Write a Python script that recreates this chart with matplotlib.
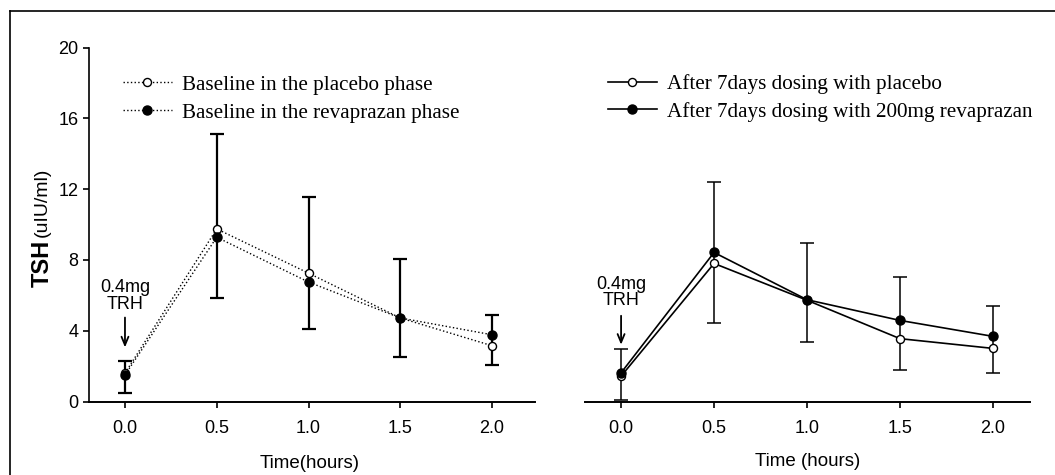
import matplotlib
matplotlib.use("Agg")
import matplotlib.pyplot as plt
from matplotlib.lines import Line2D
import numpy as np

# ---------------- data ----------------
time_h = [0.0, 0.5, 1.0, 1.5, 2.0]

# Left panel (baseline)
base_placebo = [1.6, 9.75, 7.25, 4.72, 3.15]
base_revap = [1.5, 9.28, 6.75, 4.72, 3.77]
base_err_hi = [2.3, 15.1, 11.57, 8.05, 4.88]
base_err_lo = [0.5, 5.85, 4.1, 2.5, 2.05]

# Right panel (after 7 days dosing)
after_placebo = [1.43, 7.8, 5.72, 3.55, 3.0]
after_revap = [1.62, 8.42, 5.75, 4.58, 3.68]
after_err_hi = [2.97, 12.42, 8.95, 7.02, 5.37]
after_err_lo = [0.07, 4.42, 3.35, 1.77, 1.6]

left_labels = ["Baseline in the placebo phase", "Baseline in the revaprazan phase"]
right_labels = ["After 7days dosing with placebo", "After 7days dosing with 200mg revaprazan"]

y_ticks = [0, 4, 8, 12, 16, 20]
x_ticks = [0.0, 0.5, 1.0, 1.5, 2.0]
x_tick_labels = ["0.0", "0.5", "1.0", "1.5", "2.0"]

W, H = 1055, 475
fig = plt.figure(figsize=(W / 100, H / 100), dpi=100)

sans = "Liberation Sans"
serif = "Liberation Serif"
tick_fs = 13


def px_rect(x0, x1, ytop, ybot):
    return [x0 / W, 1 - ybot / H, (x1 - x0) / W, (ybot - ytop) / H]


axL = fig.add_axes(px_rect(89, 535, 47.5, 401.5))
axR = fig.add_axes(px_rect(585, 1030, 47.5, 401.5))

for ax, xl in ((axL, (-0.196, 2.234)), (axR, (-0.194, 2.199))):
    ax.set_xlim(*xl)
    ax.set_ylim(0, 20)
    ax.spines["top"].set_visible(False)
    ax.spines["right"].set_visible(False)
    ax.spines["bottom"].set_linewidth(1.4)
    ax.spines["left"].set_linewidth(1.2)
    ax.set_xticks(x_ticks)
    ax.set_xticklabels(x_tick_labels, fontfamily=sans, fontsize=tick_fs)
    ax.tick_params(axis="x", direction="out", length=4, width=1.2, pad=9)
    ax.tick_params(axis="y", direction="out", length=4.5, width=1.2, pad=3)
    ax.patch.set_alpha(0)

axL.set_yticks(y_ticks)
axL.set_yticklabels([str(v) for v in y_ticks], fontfamily=sans, fontsize=tick_fs)
axR.spines["left"].set_visible(False)
axR.set_yticks([])

ms_f = 6.5
ms_o = 5.8


def draw_panel(ax, a, b, hi, lo, ls, lw, elw):
    mid = [(h + l) / 2 for h, l in zip(hi, lo)]
    half = [(h - l) / 2 for h, l in zip(hi, lo)]
    ax.errorbar(time_h, mid, yerr=half, fmt="none", ecolor="black",
                elinewidth=elw, capsize=4.8, capthick=elw, zorder=2)
    la, = ax.plot(time_h, a, linestyle=ls, color="black", linewidth=lw,
                  marker="o", markersize=ms_o, markerfacecolor="white",
                  markeredgecolor="black", markeredgewidth=1.0, zorder=3)
    lb, = ax.plot(time_h, b, linestyle=ls, color="black", linewidth=lw,
                  marker="o", markersize=ms_f, markerfacecolor="black",
                  markeredgecolor="black", zorder=4)
    return la, lb


hL = draw_panel(axL, base_placebo, base_revap, base_err_hi, base_err_lo, ":", 1.0, 1.6)
hR = draw_panel(axR, after_placebo, after_revap, after_err_hi, after_err_lo, "-", 1.2, 1.1)

leg_kw = dict(loc="upper left", frameon=False,
              prop={"family": serif, "size": 15.2},
              handlelength=2.3, handletextpad=0.5, labelspacing=0.38,
              borderaxespad=0, borderpad=0)
legL = fig.legend(hL, left_labels, bbox_to_anchor=(123 / W, 1 - 75 / H), **leg_kw)
legR = fig.legend(hR, right_labels, bbox_to_anchor=(608 / W, 1 - 74 / H), **leg_kw)

# TRH annotations
for ax, ytxt, ytail, yhead in ((axL, 6.9, 4.9, 2.9), (axR, 7.1, 5.0, 3.05)):
    ax.text(0.0, ytxt, "0.4mg\nTRH", ha="center", va="top",
            fontfamily=sans, fontsize=tick_fs, linespacing=0.95)
    ax.annotate("", xy=(0.0, yhead), xytext=(0.0, ytail),
                arrowprops=dict(arrowstyle="->,head_length=0.6,head_width=0.25",
                                color="black", lw=1.3))

# axis labels
fig.text(310 / W, 1 - 463 / H, "Time(hours)", ha="center", va="center",
         fontfamily=sans, fontsize=13.5)
fig.text(808 / W, 1 - 462 / H, "Time (hours)", ha="center", va="center",
         fontfamily=sans, fontsize=13.5)
fig.text(42 / W, 1 - 263 / H, "TSH", rotation=90, ha="center", va="center",
         fontfamily=sans, fontsize=17, fontweight="bold")
fig.text(42 / W, 1 - 202 / H, "(uIU/ml)", rotation=90, ha="center", va="center",
         fontfamily=sans, fontsize=14)

# outer frame (top and left edges)
fig.add_artist(Line2D([10 / W, 10 / W], [0, 1 - 11 / H], transform=fig.transFigure,
                      color="black", linewidth=1.2))
fig.add_artist(Line2D([10 / W, 1], [1 - 11 / H, 1 - 11 / H], transform=fig.transFigure,
                      color="black", linewidth=1.2))

fig.savefig("out.png", dpi=100)
